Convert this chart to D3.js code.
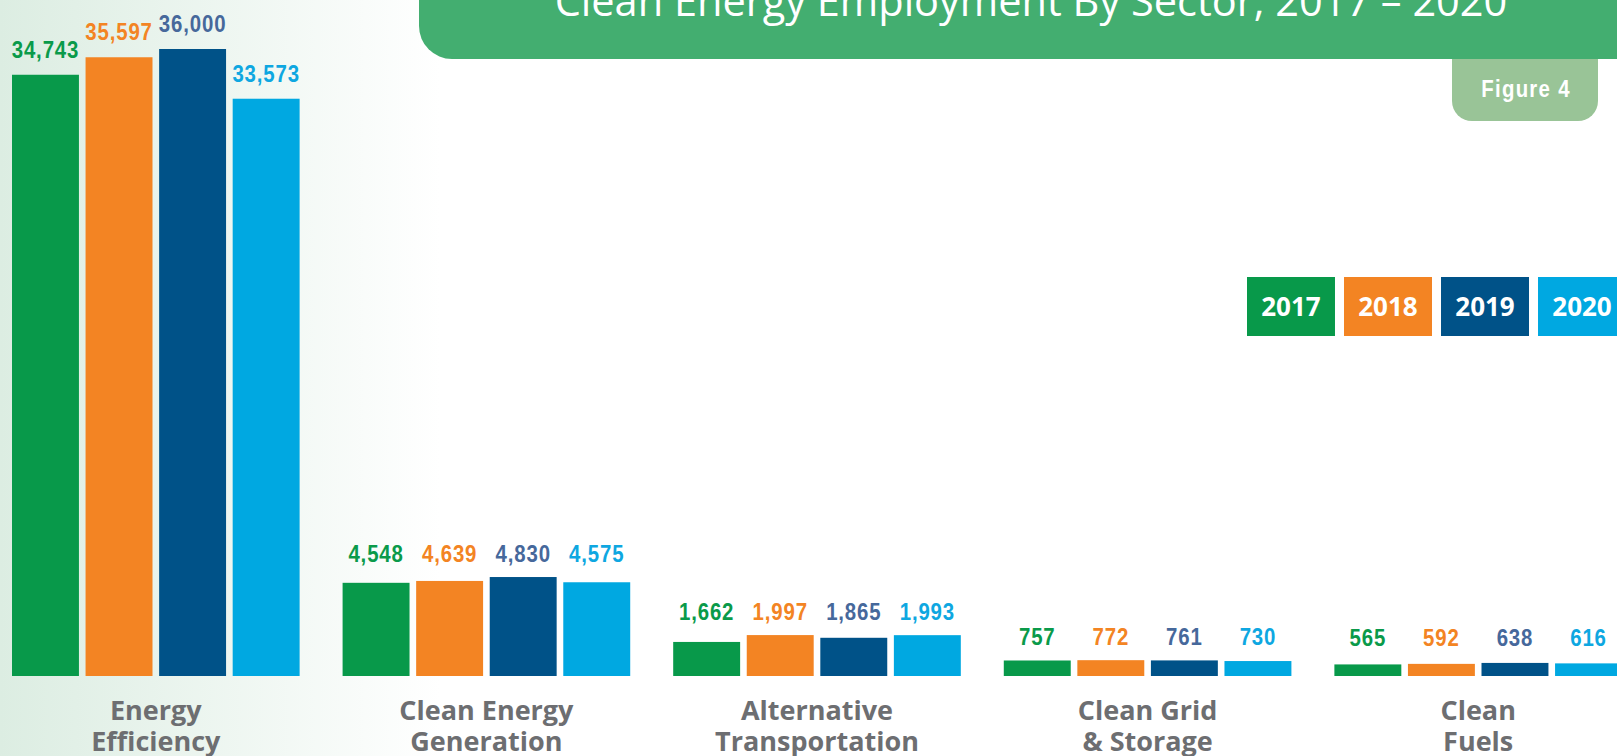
<!DOCTYPE html>
<html>
<head>
<meta charset="utf-8">
<script src="https://cdn.jsdelivr.net/npm/d3@7"></script>
<style>
  html, body { margin: 0; padding: 0; background: #fff; overflow: hidden; }
  svg { display: block; }
  .value {
      font-family: "Liberation Sans", "Arial", sans-serif;
      font-weight: 700; font-size: 24px; letter-spacing: 1px; text-anchor: middle;
  }
  .sector { font-family: "Open Sans", "Liberation Sans", sans-serif; font-weight: 700; font-size: 27px; fill: #6d6e71; text-anchor: middle; }
  .legend text { font-family: "Open Sans", "Liberation Sans", sans-serif; font-weight: 700; font-size: 26px; fill: #fff; text-anchor: middle; }
  .title { font-family: "Open Sans", "Liberation Sans", sans-serif; font-weight: 400; font-size: 41.5px; fill: #fff; text-anchor: middle; }
  .figure { font-family: "Liberation Sans", "Arial", sans-serif; font-weight: 700; font-size: 24px; letter-spacing: 1.5px; fill: #fff; text-anchor: middle; }
</style>
</head>
<body>
<div id="chart"></div>
<script>
/*
** Data
*/
var sectors = ["Energy Efficiency", "Clean Energy Generation", "Alternative Transportation", "Clean Grid & Storage", "Clean Fuels"]
  , sectorLines = [["Energy", "Efficiency"], ["Clean Energy", "Generation"], ["Alternative", "Transportation"], ["Clean Grid", "& Storage"], ["Clean", "Fuels"]]
  , years = ["2017", "2018", "2019", "2020"]
  , jobs2017 = [34743, 4548, 1662, 757, 565]
  , jobs2018 = [35597, 4639, 1997, 772, 592]
  , jobs2019 = [36000, 4830, 1865, 761, 638]
  , jobs2020 = [33573, 4575, 1993, 730, 616]
  , title = "Clean Energy Employment By Sector, 2017 \u2013 2020"
  , figureLabel = "Figure 4"
;

/*
** Styles / layout
*/
var width = 1617
  , height = 756
  , baseline = 676
  , plotTop = 49
  , breakAt = 5400 // the Energy Efficiency bars sit on a cut axis
  , squeeze = 0.85 // condensed look for the number labels
  , barColor = { "2017": "#08994a", "2018": "#f38423", "2019": "#005288", "2020": "#00a8e1" }
  , labelColor = { "2017": "#0a9a4a", "2018": "#f38423", "2019": "#46689b", "2020": "#0ea7e1" }
;

var series = { "2017": jobs2017, "2018": jobs2018, "2019": jobs2019, "2020": jobs2020 };
var rows = sectors.map(function(s, i) {
    return {
        sector: s
      , lines: sectorLines[i]
      , broken: i === 0
      , values: years.map(function(yr) { return { year: yr, value: series[yr][i] }; })
    };
});

var svg = d3.select("#chart").append("svg")
    .attr("width", width)
    .attr("height", height)
;

// background wash on the left
var grad = svg.append("defs").append("linearGradient")
    .attr("id", "wash")
    .attr("x1", 0).attr("x2", 1).attr("y1", 0).attr("y2", 0)
;
grad.append("stop").attr("offset", "0%").attr("stop-color", "#dcede2");
grad.append("stop").attr("offset", "100%").attr("stop-color", "#ffffff");
svg.append("rect")
    .attr("width", 440).attr("height", height)
    .attr("fill", "url(#wash)")
;

function squeezed(x, y) {
    return "translate(" + x + "," + y + ") scale(" + squeeze + ",1)";
}

/*
** Scales
*/
var maxValue = d3.max([jobs2017, jobs2018, jobs2019, jobs2020], function(a) { return d3.max(a); });
var x0 = d3.scaleBand()
    .domain(sectors)
    .range([12, 1622])
    .paddingInner(0.13)
;
var x1 = d3.scaleBand()
    .domain(years)
    .range([0, x0.bandwidth()])
    .paddingInner(0.09)
;
var y = d3.scaleLinear()
    .domain([0, maxValue - breakAt])
    .range([baseline, plotTop])
;
var yBreak = y.copy().domain([breakAt, maxValue]);

/*
** Title banner and figure tab
*/
svg.append("rect")
    .attr("x", 1452).attr("y", -30)
    .attr("width", 146).attr("height", 151)
    .attr("rx", 20)
    .attr("fill", "#99c497")
;
svg.append("text")
    .attr("class", "figure")
    .attr("transform", squeezed(1526, 97))
    .text(figureLabel)
;
svg.append("rect")
    .attr("x", 419).attr("y", -120)
    .attr("width", 1300).attr("height", 179)
    .attr("rx", 33)
    .attr("fill", "#43ae70")
;
svg.append("text")
    .attr("class", "title")
    .attr("x", 1031).attr("y", 16)
    .text(title)
;

/*
** Bars
*/
var groups = svg.selectAll(".group")
    .data(rows)
  .enter().append("g")
    .attr("class", "group")
    .attr("transform", function(d) { return "translate(" + x0(d.sector) + ",0)"; })
;
groups.selectAll("rect")
    .data(function(d) { return d.values.map(function(v) { return { year: v.year, value: v.value, broken: d.broken }; }); })
  .enter().append("rect")
    .attr("x", function(d) { return x1(d.year); })
    .attr("width", x1.bandwidth())
    .attr("y", function(d) { return (d.broken ? yBreak : y)(d.value); })
    .attr("height", function(d) { return baseline - (d.broken ? yBreak : y)(d.value); })
    .attr("fill", function(d) { return barColor[d.year]; })
;
groups.each(function(d) {
    var g = d3.select(this)
      , top = y(d3.max(d.values, function(v) { return v.value; }))
      , shared = Math.min(top - 15, baseline - 30)
    ;
    g.selectAll(".value")
        .data(d.values)
      .enter().append("text")
        .attr("class", "value")
        .attr("transform", function(v) {
            return squeezed(x1(v.year) + x1.bandwidth() / 2, d.broken ? yBreak(v.value) - 17 : shared);
          })
        .attr("fill", function(v) { return labelColor[v.year]; })
        .text(function(v) { return d3.format(",")(v.value); })
    ;
    g.append("text")
        .attr("class", "sector")
        .attr("x", x0.bandwidth() / 2)
        .attr("y", 720)
      .selectAll("tspan")
        .data(d.lines)
      .enter().append("tspan")
        .attr("x", x0.bandwidth() / 2)
        .attr("dy", function(l, i) { return i ? 31 : 0; })
        .text(function(l) { return l; })
    ;
});

/*
** Legend
*/
var xl = d3.scaleBand()
    .domain(years)
    .range([1247, 1626])
    .paddingInner(0.093)
;
var legend = svg.append("g")
    .attr("class", "legend")
  .selectAll("g")
    .data(years)
  .enter().append("g")
;
legend.append("rect")
    .attr("x", function(d) { return xl(d); })
    .attr("y", 277)
    .attr("width", xl.bandwidth())
    .attr("height", 59)
    .attr("fill", function(d) { return barColor[d]; })
;
legend.append("text")
    .attr("x", function(d) { return xl(d) + xl.bandwidth() / 2; })
    .attr("y", 316)
    .text(function(d) { return d; })
;
</script>
</body>
</html>
